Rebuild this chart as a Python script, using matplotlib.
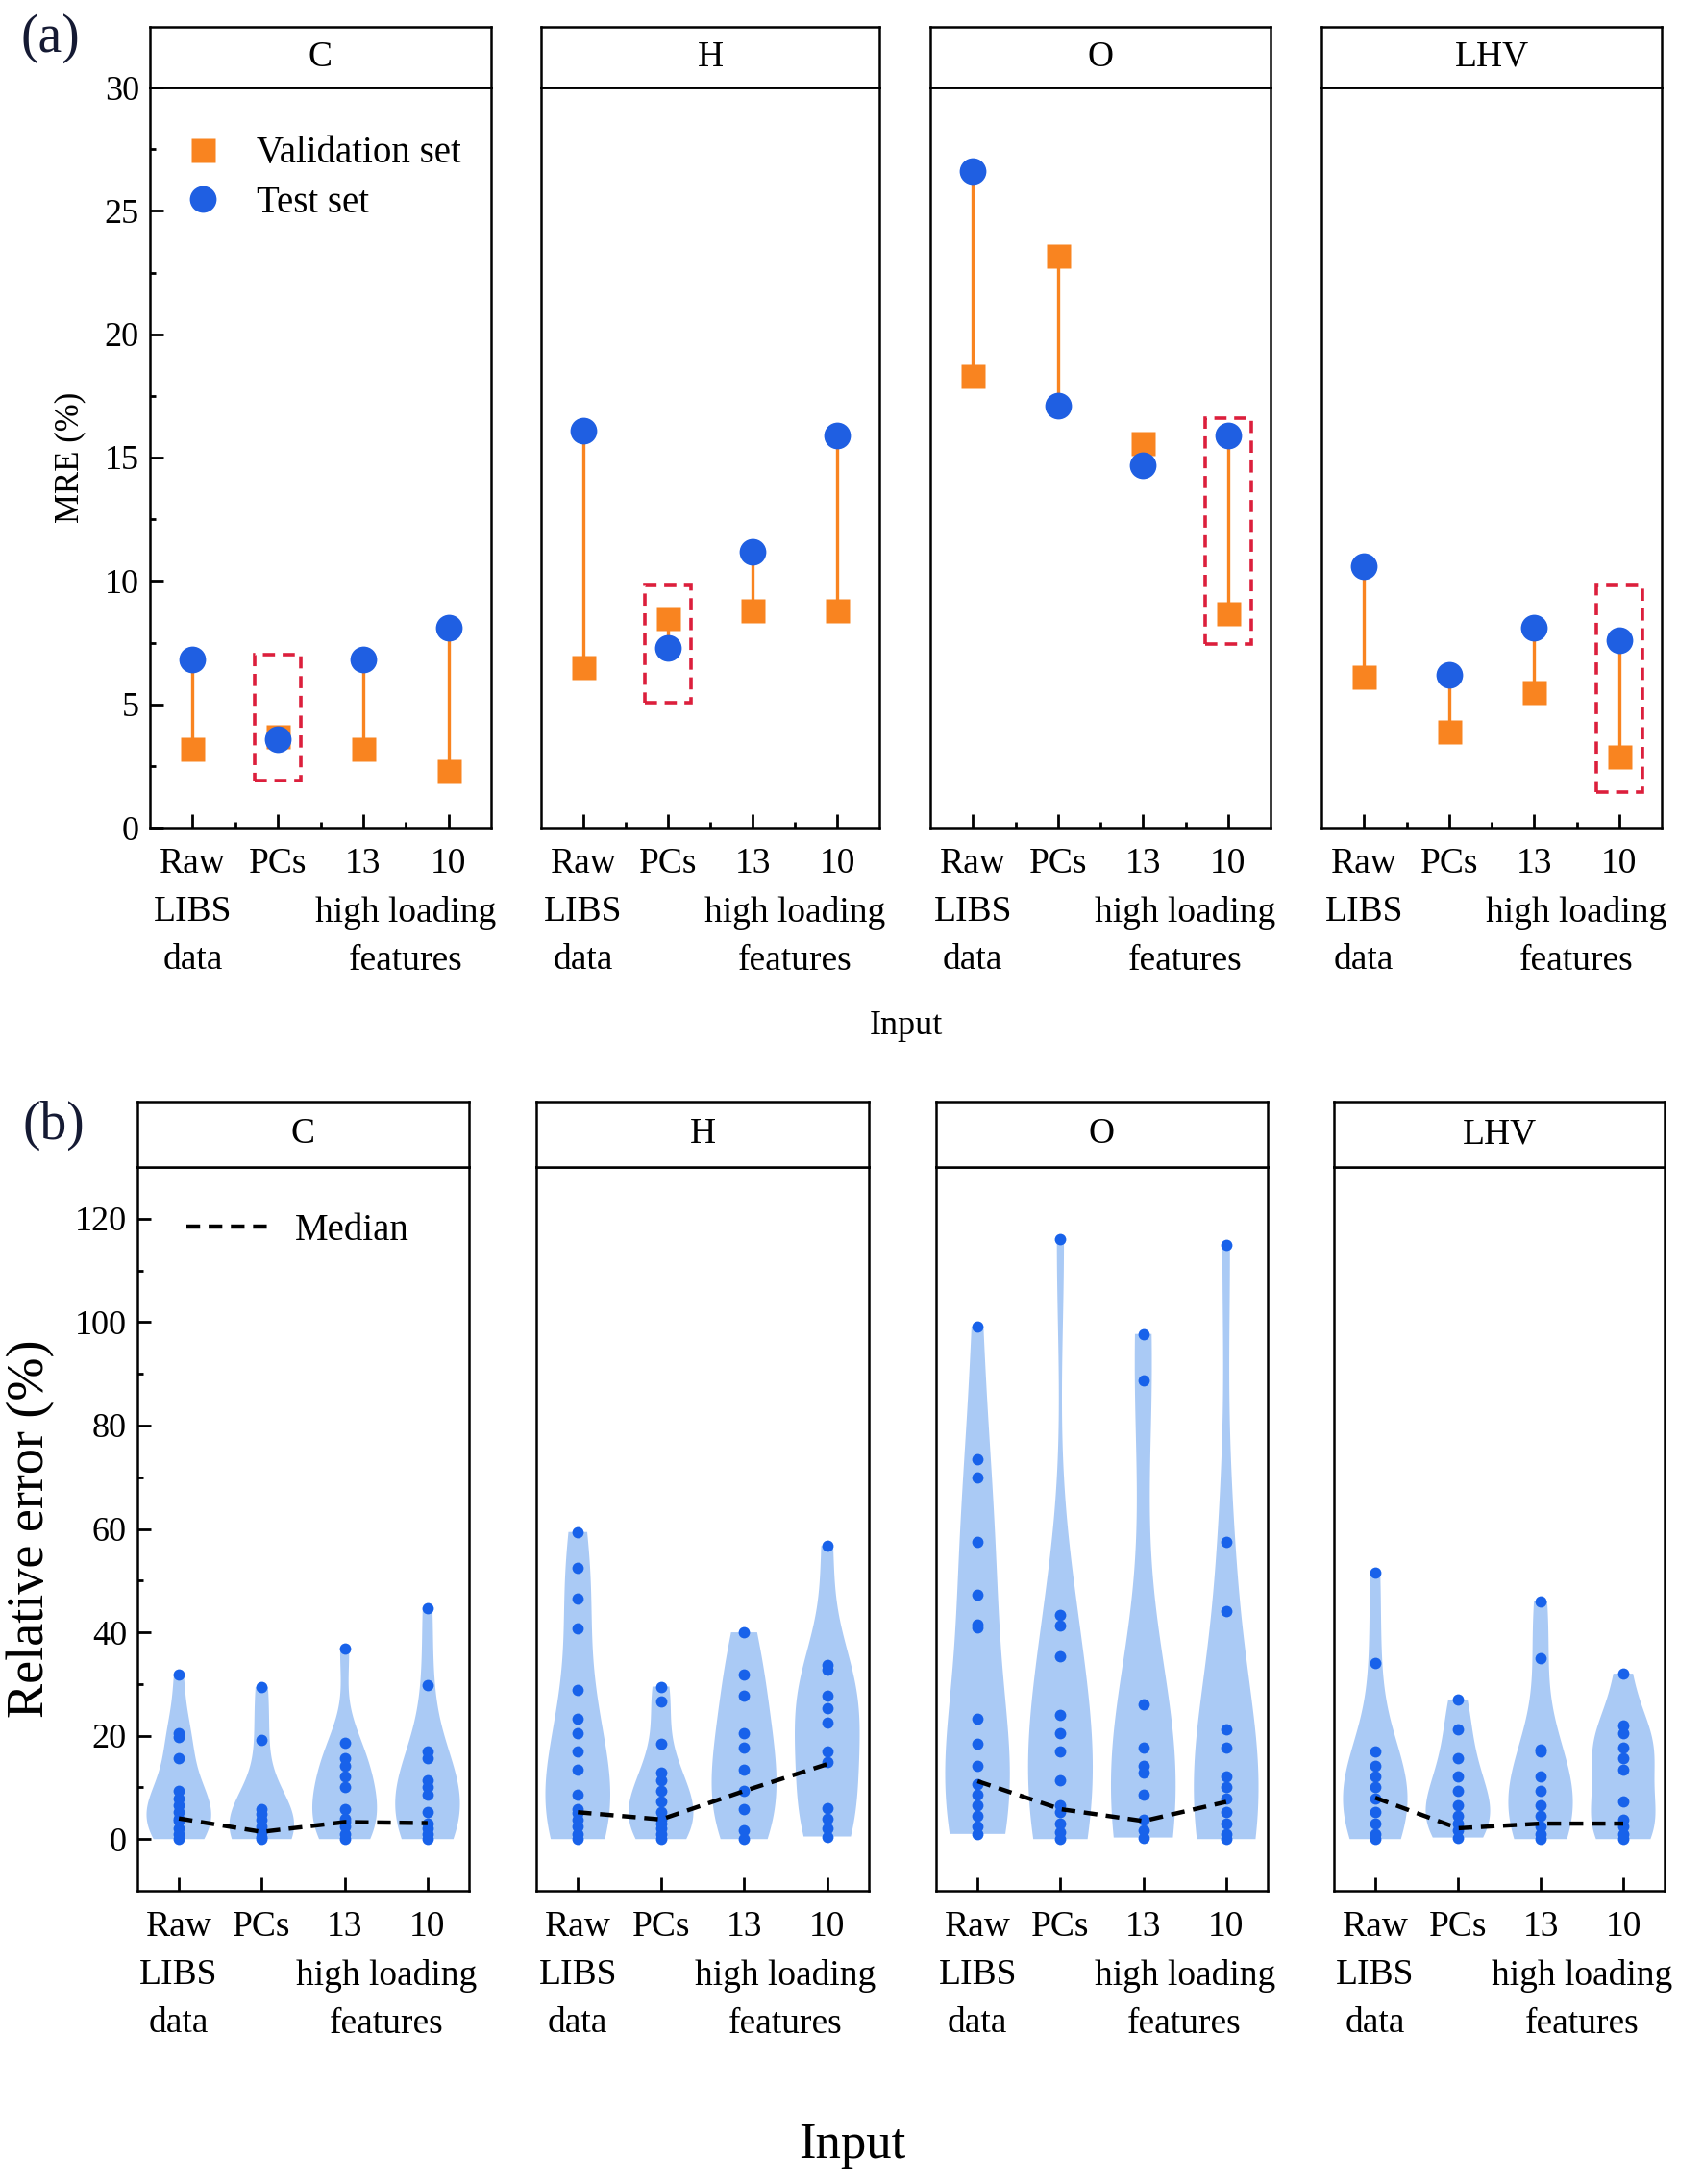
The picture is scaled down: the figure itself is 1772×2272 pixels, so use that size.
import matplotlib.pyplot as plt
import numpy as np
from matplotlib.lines import Line2D
from matplotlib.patches import Rectangle
from matplotlib.transforms import blended_transform_factory

plt.rcParams['font.family'] = ['Liberation Serif', 'DejaVu Serif']

W, H = 1772, 2272

elements = ['C', 'H', 'O', 'LHV']
inputs = ['Raw\nLIBS\ndata', 'PCs', '13', '10']
positions = [1, 2, 3, 4]

# (a) MRE (%) per input: validation set / test set
val_c = [3.2, 3.7, 3.2, 2.3]
test_c = [6.8, 3.6, 6.8, 8.1]
val_h = [6.5, 8.5, 8.8, 8.8]
test_h = [16.1, 7.3, 11.2, 15.9]
val_o = [18.3, 23.2, 15.6, 8.7]
test_o = [26.6, 17.1, 14.7, 15.9]
val_lhv = [6.1, 3.9, 5.5, 2.9]
test_lhv = [10.6, 6.2, 8.1, 7.6]

# highlighted cases (element, input position, ymin, ymax)
boxes = [('C', 2, 1.9, 7.0), ('H', 2, 5.05, 9.8), ('O', 4, 7.45, 16.6), ('LHV', 4, 1.45, 9.8)]

# (b) relative error (%) of single samples, per input
err_c = [[31.9, 20.5, 19.8, 15.6, 9.3, 7.9, 6.5, 5.2, 4.0, 3.5, 2.1, 1.0, 0.0],
         [29.4, 19.1, 5.8, 4.9, 3.8, 2.4, 1.3, 0.5, 0.0],
         [36.8, 18.7, 15.6, 14.2, 12.1, 10.0, 5.8, 4.0, 3.3, 2.4, 1.0, 0.0],
         [44.7, 29.8, 17.0, 15.6, 11.4, 10.0, 8.6, 5.2, 3.1, 2.0, 1.0, 0.0]]
err_h = [[59.4, 52.5, 46.6, 40.7, 28.8, 23.2, 20.5, 17.0, 13.5, 8.6, 5.8, 5.0, 3.8, 2.4, 1.0, 0.0],
         [29.5, 26.7, 18.4, 12.8, 11.4, 9.3, 7.2, 5.2, 3.8, 3.0, 2.1, 1.0, 0.0],
         [40.0, 31.9, 27.7, 20.5, 17.7, 13.5, 9.3, 5.8, 1.7, 0.0],
         [56.7, 33.7, 32.7, 27.7, 25.3, 22.5, 17.0, 15.0, 6.0, 4.0, 2.0, 0.5]]
err_o = [[99.1, 73.4, 70.0, 57.5, 47.3, 41.5, 41.0, 23.2, 18.4, 14.2, 10.7, 8.6, 6.5, 4.5, 2.4, 1.0],
         [116.0, 43.4, 41.3, 35.4, 24.0, 20.5, 17.0, 11.4, 6.5, 5.2, 3.1, 1.3, 0.0],
         [97.7, 88.7, 26.0, 17.7, 14.2, 12.8, 8.6, 3.8, 1.7, 0.3],
         [115.0, 57.4, 44.1, 21.2, 17.7, 12.1, 10.0, 7.9, 5.2, 3.1, 1.0, 0.0]]
err_lhv = [[51.5, 34.0, 17.0, 14.2, 12.1, 10.0, 7.9, 5.2, 3.1, 1.0, 0.0],
           [27.0, 21.2, 15.6, 12.1, 9.3, 6.5, 4.5, 3.1, 1.7, 0.3],
           [46.0, 35.0, 17.4, 17.0, 12.1, 9.3, 6.5, 4.5, 2.4, 1.0, 0.0],
           [32.0, 21.9, 20.5, 17.7, 15.6, 13.5, 7.2, 3.8, 2.4, 1.0, 0.0]]
med_c = [4.0, 1.4, 3.3, 3.1]
med_h = [5.2, 3.8, 9.3, 14.5]
med_o = [11.2, 5.8, 3.5, 7.2]
med_lhv = [8.0, 2.1, 3.0, 3.0]

vals = [val_c, val_h, val_o, val_lhv]
tests = [test_c, test_h, test_o, test_lhv]
errs = [err_c, err_h, err_o, err_lhv]
meds = [med_c, med_h, med_o, med_lhv]

ORANGE = '#f98420'
BLUE = '#1f5fe2'
VIOLIN = '#a6c7f5'
DOT = '#1862ea'
RED = '#dc1f3c'
TICK = 27
LSP = 1.58
DASH = (0, (3.2, 2.0))


def box(l, t, r, b):
    return [l / W, 1 - b / H, (r - l) / W, (b - t) / H]


def strip(l, t, r, b, name):
    s = fig.add_axes(box(l, t, r, b))
    s.set_xticks([])
    s.set_yticks([])
    for sp in s.spines.values():
        sp.set_linewidth(1.8)
    s.text(0.5, 0.5, name, ha='center', va='center', fontsize=27, transform=s.transAxes)


def style(ax, first, minor_x):
    for sp in ax.spines.values():
        sp.set_linewidth(1.8)
    ax.set_xlim(0.5, 4.5)
    ax.set_xticks(positions)
    ax.set_xticklabels(inputs, fontsize=TICK, linespacing=LSP)
    if minor_x:
        ax.set_xticks([1.5, 2.5, 3.5], minor=True)
    ax.tick_params(axis='x', which='major', direction='in', length=10, width=2, pad=15)
    ax.tick_params(axis='x', which='minor', direction='in', length=4, width=2)
    ax.tick_params(axis='y', which='major', direction='in', length=10, width=2, pad=8, labelsize=TICK - 1)
    ax.tick_params(axis='y', which='minor', direction='in', length=4, width=2)
    if not first:
        ax.tick_params(axis='y', which='both', left=False, labelleft=False)


fig = plt.figure(figsize=(W / 100, H / 100), dpi=100)
panels = []

# ---------------- (a) ----------------
a_left = [156, 563, 968, 1375]
a_right = [511, 915, 1322, 1729]
for i, el in enumerate(elements):
    ax = fig.add_axes(box(a_left[i], 91, a_right[i], 861))
    strip(a_left[i], 28, a_right[i], 91, el)
    v = vals[i]
    t = tests[i]
    ax.vlines(positions, np.minimum(v, t), np.maximum(v, t), color=ORANGE, lw=2.4, zorder=1)
    ax.plot(positions, v, 's', color=ORANGE, ms=18, mec='none', ls='none', zorder=2, label='Validation set')
    ax.plot(positions, t, 'o', color=BLUE, ms=20, mec='none', ls='none', zorder=3, label='Test set')
    for name, p, y0, y1 in boxes:
        if name == el:
            ax.add_patch(Rectangle((p - 0.27, y0), 0.54, y1 - y0, fill=False, ec=RED,
                                   lw=2.6, ls=(0, (3.5, 2.2)), zorder=4))
    ax.set_ylim(0, 30)
    ax.set_yticks(np.arange(0, 31, 5))
    ax.set_yticks(np.arange(2.5, 30, 5), minor=True)
    style(ax, i == 0, True)
    if i == 0:
        ax.legend(loc='upper left', bbox_to_anchor=(0.045, 0.955), frameon=False, fontsize=28,
                  handlelength=1.2, handletextpad=0.85, labelspacing=0.38, borderaxespad=0)
    panels.append(ax)

fig.text(73 / W, 1 - 476 / H, 'MRE (%)', rotation=90, ha='center', va='center', fontsize=25)
fig.text(943 / W, 1 - 1068 / H, 'Input', ha='center', va='center', fontsize=26)
fig.text(52 / W, 1 - 40 / H, '(a)', ha='center', va='center', fontsize=40, color='#151a33')

# ---------------- (b) ----------------
b_left = [143, 558, 974, 1388]
b_right = [488, 904, 1319, 1732]
for i, el in enumerate(elements):
    ax = fig.add_axes(box(b_left[i], 1214, b_right[i], 1967))
    strip(b_left[i], 1146, b_right[i], 1214, el)
    parts = ax.violinplot(errs[i], positions=positions, widths=0.78,
                          showextrema=False, showmedians=False)
    for body in parts['bodies']:
        body.set_facecolor(VIOLIN)
        body.set_edgecolor('none')
        body.set_alpha(0.95)
    for p, d in zip(positions, errs[i]):
        ax.plot(np.full(len(d), p), d, 'o', color=DOT, ms=8.5, mec='none', ls='none', zorder=3)
    ax.plot(positions, meds[i], color='k', lw=3.2, ls=DASH, zorder=4)
    ax.set_ylim(-10, 130)
    ax.set_yticks(np.arange(0, 121, 20))
    ax.set_yticks(np.arange(10, 130, 20), minor=True)
    style(ax, i == 0, False)
    if i == 0:
        handle = Line2D([], [], color='k', lw=3.2, ls=DASH)
        ax.legend([handle], ['Median'], loc='upper left', bbox_to_anchor=(0.104, 0.957), frameon=False,
                  fontsize=28, handlelength=2.3, handletextpad=0.6, borderaxespad=0)
    panels.append(ax)

fig.text(32 / W, 1 - 1590 / H, 'Relative error (%)', rotation=90, ha='center', va='center', fontsize=39)
fig.text(887 / W, 1 - 2232 / H, 'Input', ha='center', va='center', fontsize=38)
fig.text(56 / W, 1 - 1171 / H, '(b)', ha='center', va='center', fontsize=40, color='#151a33')

# second and third line of the tick labels: "high loading features" under 13 and 10
fig.canvas.draw()
for ax in panels:
    labels = ax.get_xticklabels()
    raw_bb = labels[0].get_window_extent()
    pcs_bb = labels[1].get_window_extent()
    step = (raw_bb.height - pcs_bb.height) / 2
    y_ax = ax.transAxes.inverted().transform((0, raw_bb.y1 - step))[1]
    ax.text(3.5, y_ax, 'high loading\nfeatures', ha='center', va='top', fontsize=TICK, linespacing=LSP,
            transform=blended_transform_factory(ax.transData, ax.transAxes), clip_on=False)

fig.savefig('out.png', dpi=100)
